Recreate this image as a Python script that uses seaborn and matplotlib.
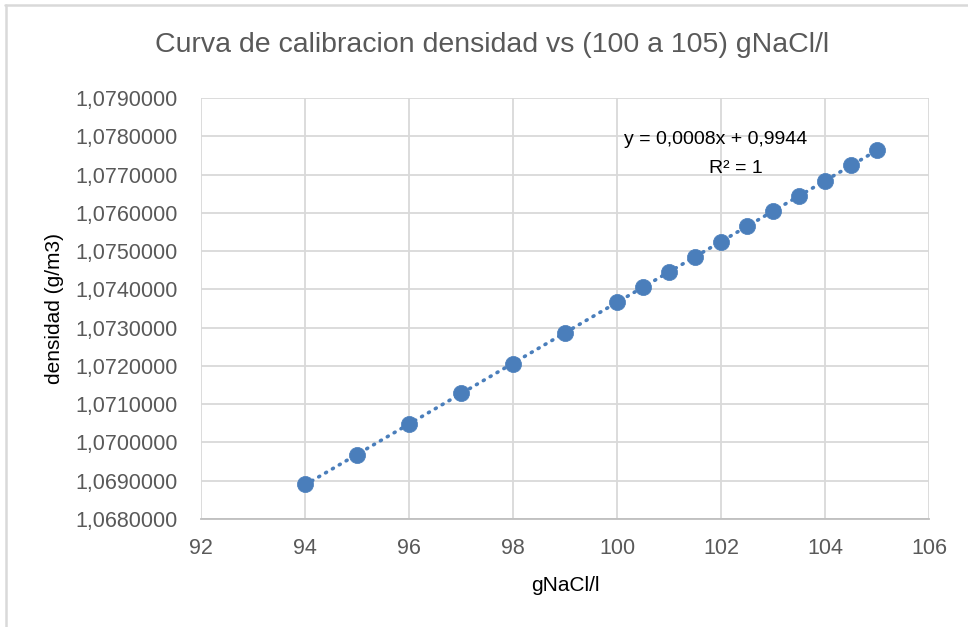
import numpy as np
import pandas as pd
import matplotlib
matplotlib.use("Agg")
import matplotlib.pyplot as plt
from matplotlib.lines import Line2D
from matplotlib.ticker import FuncFormatter, MultipleLocator
import seaborn as sns

# Calibration data: NaCl concentration (g/l) and measured density
concentracion = [94, 95, 96, 97, 98, 99, 100, 100.5, 101, 101.5, 102,
                 102.5, 103, 103.5, 104, 104.5, 105]
densidad = [1.06891, 1.06968, 1.07048, 1.07128, 1.07205, 1.07286, 1.07366,
            1.07406, 1.07445, 1.07485, 1.07524, 1.07565, 1.07605, 1.07644,
            1.07684, 1.07724, 1.07763]

titulo = "Curva de calibracion densidad vs (100 a 105) gNaCl/l"
etiqueta_x = "gNaCl/l"
etiqueta_y = "densidad (g/m3)"
ecuacion = "y = 0,0008x + 0,9944"
r2 = "R² = 1"

df = pd.DataFrame({"x": concentracion, "y": densidad})

sns.set_theme(style="white")
plt.rcParams["font.family"] = ["Liberation Sans", "DejaVu Sans"]

azul = "#4a7ebb"
rejilla = "#d9d9d9"
texto = "#595959"

W, H = 968, 627
fig = plt.figure(figsize=(W / 100, H / 100), dpi=100)
ax = fig.add_axes([201 / W, 1 - 519 / H, (929 - 201) / W, (519 - 98) / H])

# Linear trendline over the data range
coef = np.polyfit(df["x"], df["y"], 1)
xs = np.array([df["x"].min(), df["x"].max()])
ax.plot(xs, np.polyval(coef, xs), color=azul, lw=2.6,
        linestyle=(0, (0.3, 1.9)), dash_capstyle="round", zorder=2)

sns.scatterplot(data=df, x="x", y="y", ax=ax, color=azul, s=135,
                edgecolor=azul, linewidth=0.5, zorder=3)

ax.set_xlim(92, 106)
ax.set_ylim(1.068, 1.079)
ax.xaxis.set_major_locator(MultipleLocator(2))
ax.yaxis.set_major_locator(MultipleLocator(0.001))
ax.yaxis.set_major_formatter(FuncFormatter(lambda v, p: f"{v:.7f}".replace(".", ",")))

ax.grid(True, color=rejilla, lw=1.3)
ax.set_axisbelow(True)
for s in ["top", "right", "left"]:
    ax.spines[s].set_visible(False)
ax.spines["bottom"].set_color("#bfbfbf")
ax.spines["bottom"].set_linewidth(1.3)

ax.tick_params(axis="both", length=0, labelsize=15.5, labelcolor=texto)
ax.tick_params(axis="y", pad=17)
ax.tick_params(axis="x", pad=14)

ax.set_xlabel(etiqueta_x, fontsize=15, color="black", labelpad=12)
ax.set_ylabel(etiqueta_y, fontsize=15, color="black", labelpad=8)

fig.text(492 / W, 1 - 45 / H, titulo, ha="center", va="center",
         fontsize=20.5, color=texto)

fig.text(716 / W, 1 - 139 / H, ecuacion, ha="center", va="center",
         fontsize=14, color="black")
fig.text(736 / W, 1 - 168 / H, r2, ha="center", va="center",
         fontsize=14, color="black")

# Frame lines along the top and left edges
fig.add_artist(Line2D([5 / W, 1], [1 - 5 / H, 1 - 5 / H],
                      transform=fig.transFigure, color=rejilla, lw=1.8))
fig.add_artist(Line2D([6 / W, 6 / W], [0, 1 - 5 / H],
                      transform=fig.transFigure, color=rejilla, lw=1.8))

fig.savefig("out.png", dpi=100, facecolor="white")
